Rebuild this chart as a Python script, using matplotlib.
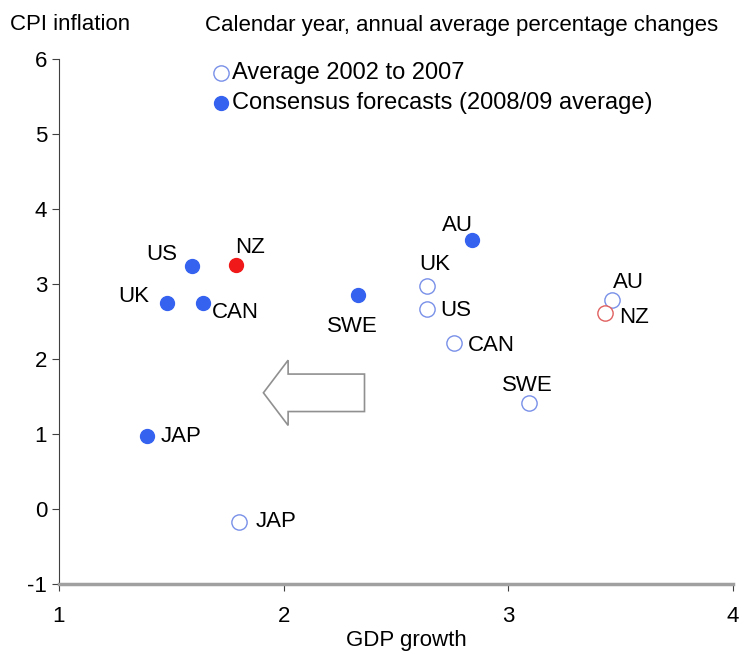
import matplotlib.pyplot as plt
from matplotlib.patches import FancyArrow

plt.rcParams['font.family'] = ['Liberation Sans', 'DejaVu Sans']
plt.rcParams['axes.unicode_minus'] = False

# consensus forecasts (2008/09 average)
fc_names = ['US', 'UK', 'CAN', 'SWE', 'AU', 'JAP', 'NZ']
fc_gdp = [1.59, 1.48, 1.64, 2.33, 2.84, 1.39, 1.79]
fc_cpi = [3.24, 2.75, 2.75, 2.85, 3.59, 0.98, 3.25]

# average 2002 to 2007
av_names = ['UK', 'US', 'CAN', 'SWE', 'AU', 'JAP', 'NZ']
av_gdp = [2.64, 2.64, 2.76, 3.09, 3.46, 1.80, 3.43]
av_cpi = [2.97, 2.67, 2.21, 1.41, 2.79, -0.17, 2.61]

# label centre offsets in pixels (dx, dy)
fc_off = {'US': (-30, 12), 'UK': (-33, 6), 'CAN': (33, -10), 'SWE': (-5, -31),
          'AU': (-15, 14), 'JAP': (35, -1), 'NZ': (14, 18)}
av_off = {'UK': (7, 22), 'US': (28, -2), 'CAN': (37, -2), 'SWE': (-1, 18),
          'AU': (17, 17), 'JAP': (37, 0), 'NZ': (29, -4)}

blue = '#3563f0'
red = '#f01818'
fs = 16

fig = plt.figure(figsize=(7.39, 6.51), dpi=100)
ax = fig.add_axes([0.0798, 0.103, 0.912, 0.806])

for n, x, y in zip(fc_names, fc_gdp, fc_cpi):
    c = red if n == 'NZ' else blue
    ax.plot(x, y, 'o', color=c, ms=10, mec=c, zorder=3)
    dx, dy = fc_off[n]
    ax.annotate(n, (x, y), xytext=(dx, dy), textcoords='offset pixels',
                ha='center', va='center', fontsize=fs)

for n, x, y in zip(av_names, av_gdp, av_cpi):
    c = '#e06060' if n == 'NZ' else '#7890e8'
    ax.plot(x, y, 'o', mfc='white', mec=c, ms=11, mew=1.0, zorder=3)
    dx, dy = av_off[n]
    ax.annotate(n, (x, y), xytext=(dx, dy), textcoords='offset pixels',
                ha='center', va='center', fontsize=fs)

# big hollow arrow pointing left
ax.add_patch(FancyArrow(2.36, 1.55, -0.45, 0, width=0.5, head_width=0.87,
                        head_length=0.11, length_includes_head=True,
                        fc='white', ec='#909090', lw=1.2, zorder=2))

# legend
ax.plot(1.72, 5.82, 'o', mfc='white', mec='#7890e8', ms=11, mew=1.0, clip_on=False)
ax.text(1.77, 5.82, 'Average 2002 to 2007', va='center', fontsize=17)
ax.plot(1.72, 5.41, 'o', color=blue, ms=10, clip_on=False)
ax.text(1.77, 5.41, 'Consensus forecasts (2008/09 average)', va='center', fontsize=17)

ax.set_xlim(1, 4)
ax.set_ylim(-1, 6)
ax.set_xticks([1, 2, 3, 4])
ax.set_yticks(range(-1, 7))
ax.tick_params(axis='both', labelsize=fs, length=5, color='#404040')
ax.tick_params(axis='x', pad=11)
ax.spines['top'].set_visible(False)
ax.spines['right'].set_visible(False)
ax.spines['bottom'].set_color('#a0a0a0')
ax.spines['bottom'].set_linewidth(2.5)
ax.spines['left'].set_color('#404040')
ax.set_xlabel('GDP growth', fontsize=fs)
ax.xaxis.set_label_coords(0.515, -0.087)

fig.text(10 / 739, 1 - 25 / 651, 'CPI inflation', fontsize=fs, va='center')
fig.text(205 / 739, 1 - 25 / 651, 'Calendar year, annual average percentage changes',
         fontsize=fs, va='center')

fig.savefig('out.png', dpi=100)
